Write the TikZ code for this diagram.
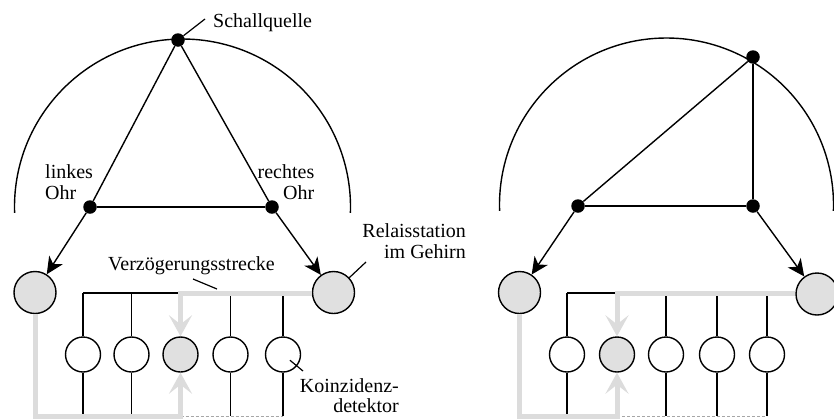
\documentclass[tikz,border=0pt]{standalone}
\usepackage{fontspec}
\setmainfont{Liberation Serif}
\usetikzlibrary{arrows.meta}
\definecolor{relgray}{HTML}{E0E0E0}
\definecolor{pathgray}{HTML}{DCDCDC}
\begin{document}
\begin{tikzpicture}[x=1pt,y=-1pt,
  dot/.style={circle,fill=black,inner sep=0pt,minimum size=13.5pt},
  relay/.style={circle,draw=black,line width=1.4pt,fill=relgray,inner sep=0pt,minimum size=42pt},
  det/.style={circle,draw=black,line width=1.4pt,fill=white,inner sep=0pt,minimum size=35pt},
  detact/.style={det,fill=relgray},
  wire/.style={line width=1.4pt,draw=black},
  grayline/.style={line width=5pt,draw=pathgray},
  grayarrow/.style={grayline,-{Stealth[length=21pt,width=23pt,inset=9pt]}},
  blackarrow/.style={wire,-{Stealth[length=17pt,width=16pt,inset=5pt]}},
  lbl/.style={font=\fontsize{20}{21.5}\selectfont,inner sep=0pt},
  ptr/.style={line width=1.2pt,draw=black},
  faint/.style={line width=0.6pt,draw=gray!70,dash pattern=on 3pt off 2pt}
]
\useasboundingbox (0,0) rectangle (834,418);
\clip (0,0) rectangle (834,418);

% ---------------- left diagram ----------------
\draw[wire] (182.5,207) ++(178:168) arc[start angle=178,end angle=362,radius=168];

\node[dot] (S1) at (178,40) {};
\node[dot] (L1) at (90,207) {};
\node[dot] (R1) at (272,207) {};
\node[relay] (LC1) at (35,292.5) {};
\node[relay] (RC1) at (333.5,292.5) {};
\node[det] (D11) at (83,354.5) {};
\node[det] (D12) at (131.5,354.5) {};
\node[detact] (D13) at (180.5,354.5) {};
\node[det] (D14) at (230.5,354.5) {};
\node[det] (D15) at (283,354.5) {};
\coordinate (T1) at (83,293);
\coordinate (G1) at (180.5,293);
\coordinate (B1) at (35,416);
\coordinate (E1) at (283,416);

\draw[wire] (S1) -- (L1);
\draw[wire] (S1) -- (R1);
\draw[wire] (L1) -- (R1);
\draw[blackarrow] (L1) -- (LC1);
\draw[blackarrow] (R1) -- (RC1);
\draw[wire] (T1) -- (G1);
\foreach \n in {D11,D12,D14,D15}{
  \draw[wire] (\n.north) -- (\n |- G1);
  \draw[wire] (\n.south) -- (\n |- B1);
}
\draw[faint] (B1 -| D13) -- (E1);
\draw[grayarrow] (RC1.west |- G1) -- (G1) -- (D13.north);
\draw[grayarrow] (LC1.south) -- (B1) -- (B1 -| D13) -- (D13.south);

% labels left
\node[lbl,anchor=base west] (sq) at (213,27.5) {Schallquelle};
\coordinate (sqp) at (205,19);
\draw[ptr] (S1) -- (sqp);
\node[lbl,align=left,anchor=north west] (lo) at (45,164.3) {linkes\\Ohr};
\node[lbl,align=right,anchor=north east] (ro) at (314.5,164.3) {rechtes\\Ohr};
\node[lbl,align=right,anchor=north east] (rs) at (466,223.3) {Relaisstation\\im Gehirn};
\coordinate (rsp) at (366,262);
\draw[ptr] (RC1) -- (rsp);
\node[lbl,anchor=base west] (vz) at (108,270) {Verzögerungsstrecke};
\coordinate (vz1) at (193,279);
\coordinate (vz2) at (217,289);
\draw[ptr] (vz1) -- (vz2);
\node[lbl,font=\fontsize{20}{20}\selectfont,align=right,anchor=north east] (kd) at (399,378) {Koinzidenz-\\detektor};
\coordinate (kzp) at (303,371);
\draw[ptr,shorten <=9pt] (D15.center) -- (kzp);

% ---------------- right diagram ----------------
\draw[wire] (666.5,205) ++(178:167) arc[start angle=178,end angle=362,radius=167];

\node[dot] (S2) at (753,57) {};
\node[dot] (L2) at (578,206) {};
\node[dot] (R2) at (753,206) {};
\node[relay] (LC2) at (519.5,292.5) {};
\node[relay] (RC2) at (817,294) {};
\node[det] (D21) at (567,354.5) {};
\node[detact] (D22) at (617,354.5) {};
\node[det] (D23) at (666,354.5) {};
\node[det] (D24) at (717,354.5) {};
\node[det] (D25) at (767,354.5) {};
\coordinate (T2) at (567,293);
\coordinate (G2) at (617,293);
\coordinate (B2) at (519.5,416);
\coordinate (E2) at (767,416);

\draw[wire] (S2) -- (L2);
\draw[wire] (S2) -- (R2);
\draw[wire] (L2) -- (R2);
\draw[blackarrow] (L2) -- (LC2);
\draw[blackarrow] (R2) -- (RC2);
\draw[wire] (T2) -- (G2);
\foreach \n in {D21,D23,D24,D25}{
  \draw[wire] (\n.north) -- (\n |- G2);
  \draw[wire] (\n.south) -- (\n |- B2);
}
\draw[faint] (B2 -| D22) -- (E2);
\draw[grayarrow] (RC2.west |- G2) -- (G2) -- (D22.north);
\draw[grayarrow] (LC2.south) -- (B2) -- (B2 -| D22) -- (D22.south);
\end{tikzpicture}
\end{document}
